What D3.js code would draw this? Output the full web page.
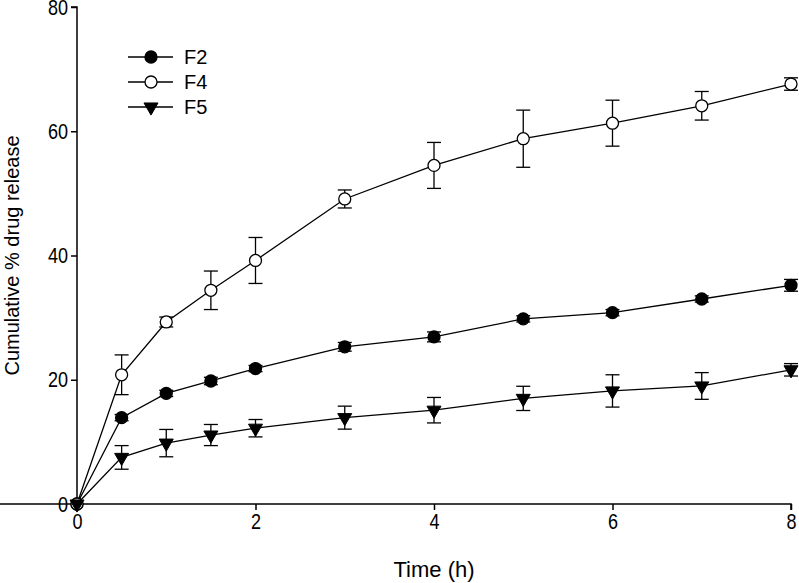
<!DOCTYPE html>
<html>
<head>
<meta charset="utf-8">
<script src="https://cdn.jsdelivr.net/npm/d3@7/dist/d3.min.js"></script>
<style>
  html, body { margin: 0; padding: 0; background: #fff; }
  svg { display: block; }
  text { font-family: "Liberation Sans", Arial, sans-serif; fill: #000; }
</style>
</head>
<body>
<svg id="chart" width="799" height="583"></svg>
<script>
const times = [0, 0.5, 1, 1.5, 2, 3, 4, 5, 6, 7, 8];
const seriesNames = ["F2", "F4", "F5"];
const f2Values = [0, 13.9, 17.8, 19.8, 21.8, 25.3, 26.9, 29.8, 30.8, 33.0, 35.2];
const f2Errors = [0, 0.5, 0.5, 0.6, 0.5, 0.7, 0.8, 0.5, 0.5, 0.5, 0.95];
const f4Values = [0, 20.8, 29.3, 34.4, 39.2, 49.1, 54.5, 58.8, 61.3, 64.1, 67.6];
const f4Errors = [0, 3.2, 0.8, 3.1, 3.7, 1.45, 3.7, 4.6, 3.7, 2.3, 1.0];
const f5Values = [0, 7.5, 9.8, 11.1, 12.2, 13.9, 15.1, 17.0, 18.2, 19.0, 21.6];
const f5Errors = [0, 1.9, 2.2, 1.7, 1.4, 1.85, 2.05, 1.95, 2.6, 2.15, 1.0];
const xTicks = [0, 2, 4, 6, 8];
const yTicks = [0, 20, 40, 60, 80];
const xTitle = "Time (h)";
const yTitle = "Cumulative % drug release";

const svg = d3.select("#chart");
const x = d3.scaleLinear().domain([0, 8]).range([77, 791]);
const y = d3.scaleLinear().domain([0, 80]).range([504, 7]);

const narrow = 0.82;

// axes
const xAxis = svg.append("g").attr("transform", `translate(0,${y(0)})`)
  .call(d3.axisBottom(x).tickValues(xTicks).tickSize(6).tickPadding(4).tickSizeOuter(0));
const yAxis = svg.append("g").attr("transform", `translate(${x(0)},0)`)
  .call(d3.axisLeft(y).tickValues(yTicks).tickSize(6).tickPadding(4).tickSizeOuter(0));
[xAxis, yAxis].forEach(a => {
  a.select(".domain").attr("stroke", "#000").attr("stroke-width", 1.5);
  a.selectAll(".tick line").attr("stroke", "#000").attr("stroke-width", 1.5);
  a.selectAll(".tick text").attr("font-size", 22).attr("font-family", "Liberation Sans, Arial, sans-serif").attr("fill", "#000");
});
xAxis.selectAll(".tick text").attr("transform", `scale(${narrow},1)`).attr("dy", "0.66em");
yAxis.selectAll(".tick text").attr("x", -9 / narrow).attr("transform", `scale(${narrow},1)`);
yAxis.selectAll(".tick").filter(d => d === 80).select("text").attr("dy", "0.36em");
yAxis.select(".domain").attr("d", `M-6,${y(80)}H0V${y(0)}`);
xAxis.select(".domain").attr("d", `M0,0H${x(8)}V6`);

// titles
svg.append("text").attr("x", (x(0) + x(8)) / 2).attr("y", 577)
  .attr("text-anchor", "middle").attr("font-size", 22).text(xTitle);
svg.append("text").attr("transform", `translate(19,${(y(0) + y(80)) / 2}) rotate(-90)`)
  .attr("text-anchor", "middle").attr("font-size", 20).text(yTitle);

const series = [
  { name: seriesNames[0], vals: f2Values, errs: f2Errors, type: "filledCircle" },
  { name: seriesNames[1], vals: f4Values, errs: f4Errors, type: "openCircle" },
  { name: seriesNames[2], vals: f5Values, errs: f5Errors, type: "triangle" }
];

const line = d3.line().x(d => x(d.t)).y(d => y(d.v));
const capHalf = 7;

function drawMarker(g, type) {
  if (type === "triangle") {
    g.append("path").attr("d", d3.symbol().type(d3.symbolTriangle).size(85)())
      .attr("transform", "rotate(180)").attr("fill", "#000").attr("stroke", "#000").attr("stroke-width", 1);
  } else {
    g.append("circle").attr("r", 6)
      .attr("fill", type === "openCircle" ? "#fff" : "#000")
      .attr("stroke", "#000").attr("stroke-width", 1.3);
  }
}

series.forEach(s => {
  const pts = times.map((t, i) => ({ t, v: s.vals[i], e: s.errs[i] }));
  const g = svg.append("g");
  g.append("path").datum(pts).attr("d", line).attr("fill", "none")
    .attr("stroke", "#000").attr("stroke-width", 1.3);
  pts.filter(p => p.e > 0).forEach(p => {
    const eb = g.append("g").attr("stroke", "#000").attr("stroke-width", 1.3);
    eb.append("line").attr("x1", x(p.t)).attr("x2", x(p.t)).attr("y1", y(p.v - p.e)).attr("y2", y(p.v + p.e));
    eb.append("line").attr("x1", x(p.t) - capHalf).attr("x2", x(p.t) + capHalf).attr("y1", y(p.v + p.e)).attr("y2", y(p.v + p.e));
    eb.append("line").attr("x1", x(p.t) - capHalf).attr("x2", x(p.t) + capHalf).attr("y1", y(p.v - p.e)).attr("y2", y(p.v - p.e));
  });
  s.pts = pts;
});
series.forEach(s => {
  s.pts.forEach(p => {
    const m = svg.append("g").attr("transform", `translate(${x(p.t)},${y(p.v)})`);
    drawMarker(m, s.type);
  });
});

// legend
const legend = svg.append("g");
const legY = [57, 82, 107];
series.forEach((s, i) => {
  legend.append("line").attr("x1", 128).attr("x2", 173).attr("y1", legY[i]).attr("y2", legY[i])
    .attr("stroke", "#000").attr("stroke-width", 1.3);
  const m = legend.append("g").attr("transform", `translate(151,${legY[i]})`);
  drawMarker(m, s.type);
  legend.append("text").attr("x", 184).attr("y", legY[i] + 7).attr("font-size", 20).text(s.name);
});
</script>
</body>
</html>
